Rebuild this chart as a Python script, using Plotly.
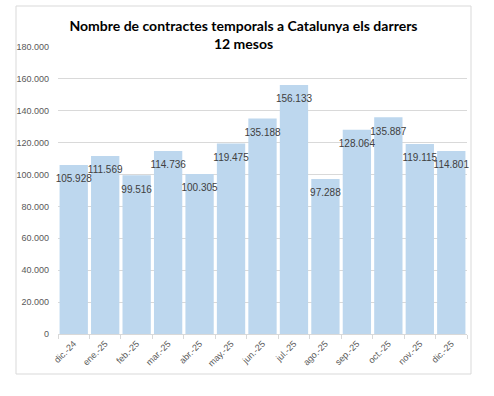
import plotly.graph_objects as go

categories = ["dic.-24", "ene.-25", "feb.-25", "mar.-25", "abr.-25", "may.-25", "jun.-25",
              "jul.-25", "ago.-25", "sep.-25", "oct.-25", "nov.-25", "dic.-25"]
values = [105928, 111569, 99516, 114736, 100305, 119475, 135188,
          156133, 97288, 128064, 135887, 119115, 114801]
y_ticks = [0, 20000, 40000, 60000, 80000, 100000, 120000, 140000, 160000, 180000]

labels = [f"{v:,}".replace(",", ".") for v in values]

fig = go.Figure()
fig.add_trace(go.Bar(
    x=categories, y=values,
    marker=dict(color="#bdd7ee", line=dict(width=0)),
    hoverinfo="skip",
))
fig.add_trace(go.Scatter(
    x=categories, y=values, text=labels,
    mode="markers+text", textposition="bottom center",
    marker=dict(size=14, color="rgba(0,0,0,0)"),
    textfont=dict(family="Liberation Sans, Arial", size=10, color="#404040"),
    cliponaxis=False, hoverinfo="skip",
))

L, R, T, B = 58, 27, 47, 62
W, H = 494, 396
pw, ph = W - L - R, H - T - B

fig.update_layout(
    width=W, height=H,
    margin=dict(l=L, r=R, t=T, b=B),
    paper_bgcolor="white", plot_bgcolor="white",
    separators=",.",
    bargap=0.1,
    showlegend=False,
    title=dict(
        text="<b>Nombre de contractes temporals a Catalunya els darrers<br>12 mesos</b>",
        x=243.5 / W, xref="container", xanchor="center", y=1 - 31 / H, yanchor="top",
        font=dict(family="Lato, Open Sans, sans-serif", size=14, color="#000000"),
    ),
    xaxis=dict(
        range=[-0.5, len(categories) - 0.5],
        tickangle=-45, tickfont=dict(family="Liberation Sans, Arial", size=9, color="#595959"),
        showline=True, linecolor="#d9d9d9", linewidth=1,
        ticks="outside", ticklen=4, tickcolor="#d9d9d9", tickson="boundaries",
        showgrid=False,
    ),
    yaxis=dict(
        range=[0, 180000], tickvals=y_ticks, tickformat=",d",
        tickfont=dict(family="Liberation Sans, Arial", size=9, color="#595959"),
        showgrid=True, gridcolor="#d9d9d9", gridwidth=1,
        zeroline=False, showline=False, ticks="", ticklabelstandoff=8,
    ),
    shapes=[dict(
        type="rect", xref="paper", yref="paper",
        x0=(16 - L) / pw, x1=(471 - L) / pw,
        y0=(H - B - 374) / ph, y1=(H - B - 6) / ph,
        line=dict(color="#d9d9d9", width=1), fillcolor="rgba(0,0,0,0)", layer="below",
    )],
)

fig.write_html("out.html", config={"displayModeBar": False},
               post_script="document.body.style.margin='0';")
